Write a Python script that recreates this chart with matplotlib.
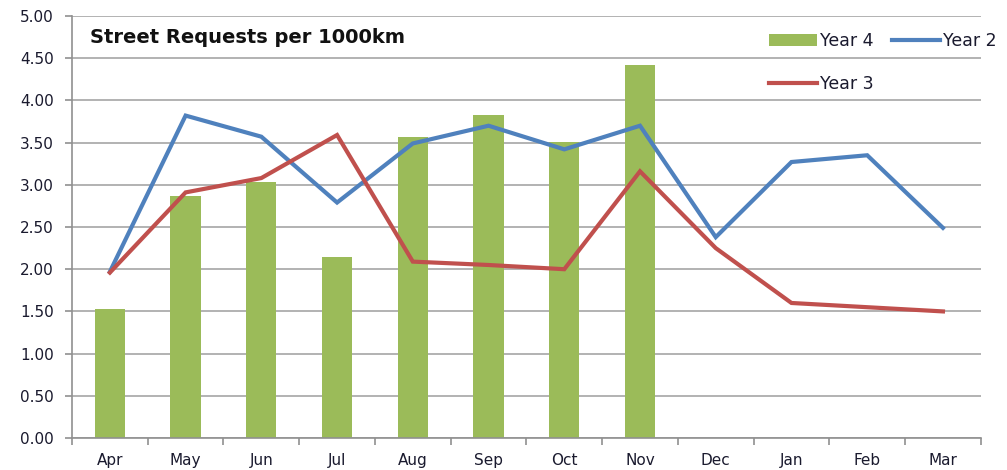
import numpy as np
import matplotlib
matplotlib.use('Agg')
import matplotlib.pyplot as plt
from matplotlib.ticker import FixedLocator, FormatStrFormatter

months = ['Apr', 'May', 'Jun', 'Jul', 'Aug', 'Sep', 'Oct', 'Nov', 'Dec', 'Jan', 'Feb', 'Mar']
year4 = [1.53, 2.87, 3.03, 2.14, 3.57, 3.83, 3.51, 4.42]  # bars, Apr-Nov only
year2 = [1.97, 3.82, 3.57, 2.79, 3.49, 3.70, 3.42, 3.70, 2.38, 3.27, 3.35, 2.49]
year3 = [1.96, 2.91, 3.08, 3.59, 2.09, 2.05, 2.00, 3.16, 2.25, 1.60, 1.55, 1.50]

green = '#9BBB59'
blue = '#4F81BD'
red = '#C0504D'
txt = '#1a1a2e'

fig = plt.figure(figsize=(10.07, 4.70), dpi=100)
ax = fig.add_axes([0.0715, 0.068, 0.9025, 0.898])

x = np.arange(len(months))
b4 = ax.bar(x[:len(year4)], year4, width=0.4, color=green, zorder=2, label='Year 4')
l2, = ax.plot(x, year2, color=blue, lw=3, zorder=3, solid_joinstyle='miter', label='Year 2')
l3, = ax.plot(x, year3, color=red, lw=3, zorder=4, solid_joinstyle='miter', label='Year 3')

ax.set_xlim(-0.5, 11.5)
ax.set_ylim(0, 5)
ax.set_yticks(np.arange(0, 5.01, 0.5))
ax.yaxis.set_major_formatter(FormatStrFormatter('%.2f'))
ax.set_xticks(x)
ax.set_xticklabels(months)
ax.xaxis.set_minor_locator(FixedLocator(np.arange(-0.5, 12, 1)))
ax.tick_params(axis='x', which='major', length=0, pad=11, labelsize=11, labelcolor=txt)
ax.tick_params(axis='x', which='minor', length=5, width=1.2, color='#909090', direction='out')
ax.tick_params(axis='y', length=5, width=1.2, color='#909090', pad=8, labelsize=11, labelcolor=txt)

ax.yaxis.grid(True, color='#A6A6A6', lw=1.2, zorder=0)
ax.set_axisbelow(True)
for s in ['top', 'right']:
    ax.spines[s].set_visible(False)
for s in ['left', 'bottom']:
    ax.spines[s].set_color('#909090')
    ax.spines[s].set_linewidth(1.2)

ax.text(0.02, 0.972, 'Street Requests per 1000km', transform=ax.transAxes,
        fontsize=14, fontweight='bold', color='#111111', va='top', ha='left')

leg = fig.legend([b4, l3, l2], ['Year 4', 'Year 3', 'Year 2'], ncol=2, frameon=False,
                 loc='upper left', bbox_to_anchor=(0.757, 0.947), fontsize=12.5,
                 handlelength=2.76, handletextpad=0.15, columnspacing=1.1,
                 labelspacing=1.45, borderaxespad=0)
for t in leg.get_texts():
    t.set_color(txt)

fig.savefig('out.png', dpi=100)
